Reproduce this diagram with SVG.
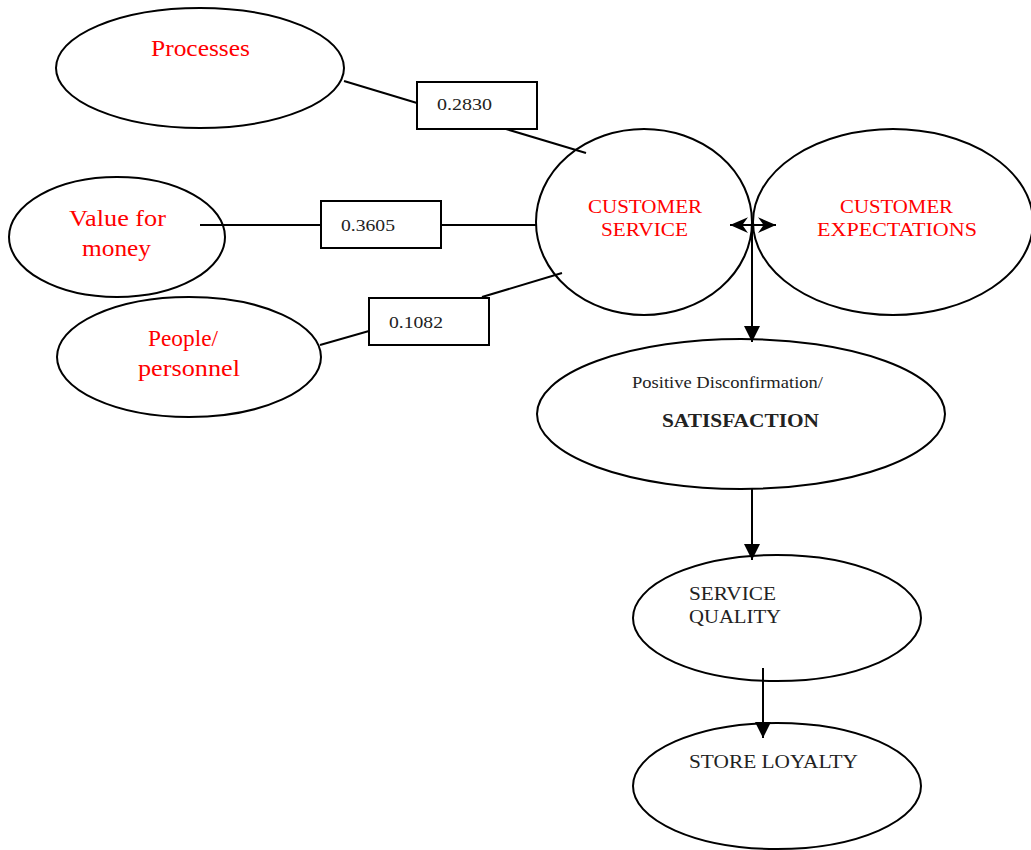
<svg xmlns="http://www.w3.org/2000/svg" width="1031" height="850" viewBox="0 0 1031 850">
<style>
.n{fill:#fff;stroke:#000;stroke-width:2}
.b{fill:#fff;stroke:#000;stroke-width:2}
.c{stroke:#000;stroke-width:2;fill:none}
.red{fill:#ff0000;font-family:"Liberation Serif",serif}
.blk{fill:#222;font-family:"Liberation Serif",serif}
</style>
<defs>
<marker id="big" viewBox="0 0 16 16" refX="16" refY="8" markerWidth="16" markerHeight="16" orient="auto" markerUnits="userSpaceOnUse">
<path d="M0,0 L16,8 L0,16 z" fill="#000"/>
</marker>
<marker id="chev" viewBox="0 0 16 16" refX="16" refY="8" markerWidth="18" markerHeight="18" orient="auto" markerUnits="userSpaceOnUse">
<path d="M0,1 L16,8 L0,15 L5,8 z" fill="#000"/>
</marker>
<marker id="chevs" viewBox="0 0 16 16" refX="0" refY="8" markerWidth="18" markerHeight="18" orient="auto" markerUnits="userSpaceOnUse">
<path d="M16,1 L0,8 L16,15 L11,8 z" fill="#000"/>
</marker>
</defs>
<g id="processes"><ellipse class="n" cx="200" cy="68" rx="144" ry="60"/><text class="red" x="151" y="56" font-size="23" textLength="99" lengthAdjust="spacingAndGlyphs">Processes</text></g>
<g id="value"><ellipse class="n" cx="117" cy="237" rx="108" ry="60"/><text class="red" x="69" y="226" font-size="23" textLength="97" lengthAdjust="spacingAndGlyphs">Value for</text><text class="red" x="82" y="256" font-size="23" textLength="69" lengthAdjust="spacingAndGlyphs">money</text></g>
<g id="people"><ellipse class="n" cx="189" cy="357" rx="132" ry="60"/><text class="red" x="148" y="346" font-size="23" textLength="70" lengthAdjust="spacingAndGlyphs">People/</text><text class="red" x="138" y="376" font-size="23" textLength="102" lengthAdjust="spacingAndGlyphs">personnel</text></g>
<g id="box1"><rect class="b" x="417" y="82" width="120" height="47"/><text class="blk" x="437" y="110" font-size="17" textLength="55" lengthAdjust="spacingAndGlyphs">0.2830</text></g>
<g id="box2"><rect class="b" x="321" y="201" width="120" height="47"/><text class="blk" x="341" y="231" font-size="17" textLength="54" lengthAdjust="spacingAndGlyphs">0.3605</text></g>
<g id="box3"><rect class="b" x="369" y="298" width="120" height="47"/><text class="blk" x="389" y="328" font-size="17" textLength="54" lengthAdjust="spacingAndGlyphs">0.1082</text></g>
<g id="cs"><ellipse class="n" cx="644" cy="222" rx="108" ry="93"/><text class="red" x="588" y="213" font-size="18" textLength="114" lengthAdjust="spacingAndGlyphs">CUSTOMER</text><text class="red" x="601" y="236" font-size="18" textLength="87" lengthAdjust="spacingAndGlyphs">SERVICE</text></g>
<g id="ce"><ellipse class="n" cx="893" cy="222" rx="140" ry="93"/><text class="red" x="840" y="213" font-size="18" textLength="113" lengthAdjust="spacingAndGlyphs">CUSTOMER</text><text class="red" x="817" y="236" font-size="18" textLength="160" lengthAdjust="spacingAndGlyphs">EXPECTATIONS</text></g>
<g id="sat"><ellipse class="n" cx="741" cy="414" rx="204" ry="75"/><text class="blk" x="632" y="388" font-size="17" textLength="191" lengthAdjust="spacingAndGlyphs">Positive Disconfirmation/</text><text class="blk" x="662" y="427" font-size="19" font-weight="bold" textLength="157" lengthAdjust="spacingAndGlyphs">SATISFACTION</text></g>
<g id="sq"><ellipse class="n" cx="777" cy="618" rx="144" ry="63"/><text class="blk" x="689" y="600" font-size="19" textLength="87" lengthAdjust="spacingAndGlyphs">SERVICE</text><text class="blk" x="689" y="623" font-size="19" textLength="92" lengthAdjust="spacingAndGlyphs">QUALITY</text></g>
<g id="sl"><ellipse class="n" cx="777" cy="786" rx="144" ry="63"/><text class="blk" x="689" y="768" font-size="19" textLength="169" lengthAdjust="spacingAndGlyphs">STORE LOYALTY</text></g>
<g id="connectors">
<line class="c" x1="344" y1="81" x2="417" y2="103"/>
<line class="c" x1="506" y1="129" x2="586" y2="153"/>
<line class="c" x1="200" y1="225" x2="321" y2="225"/>
<line class="c" x1="441" y1="225" x2="537" y2="225"/>
<line class="c" x1="320" y1="345" x2="369" y2="331"/>
<line class="c" x1="482" y1="297" x2="562" y2="273"/>
<line class="c" x1="730" y1="225" x2="776" y2="225" marker-start="url(#chevs)" marker-end="url(#chev)"/>
<line class="c" x1="752" y1="225" x2="752" y2="342" marker-end="url(#big)"/>
<line class="c" x1="752" y1="489" x2="752" y2="560" marker-end="url(#big)"/>
<line class="c" x1="763" y1="668" x2="763" y2="738" marker-end="url(#big)"/>
</g>
</svg>
